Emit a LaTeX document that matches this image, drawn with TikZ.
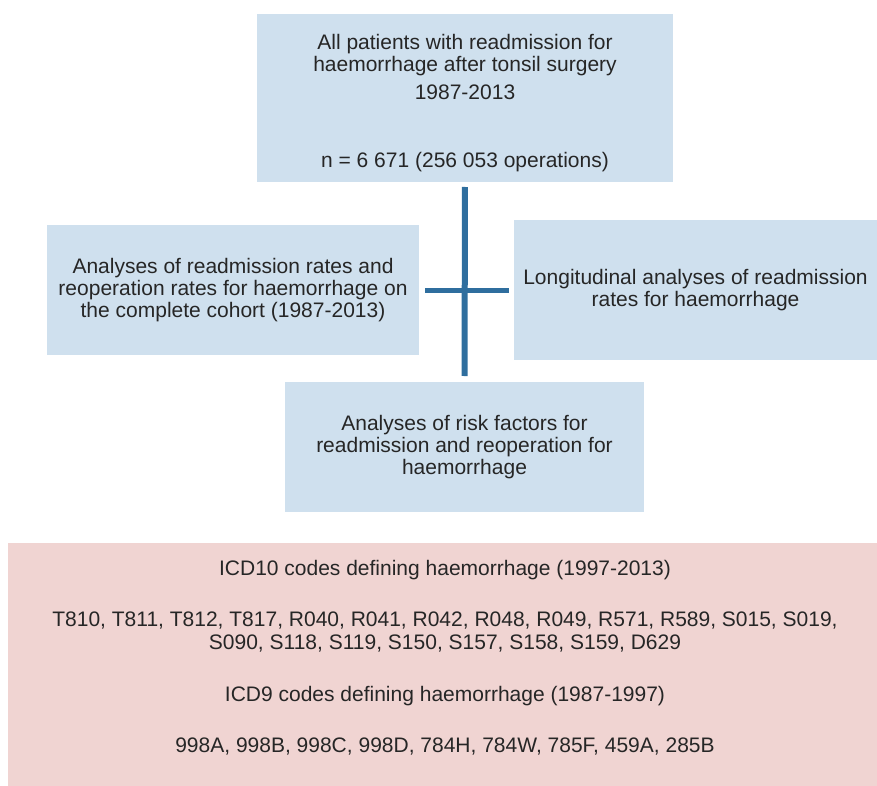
\documentclass[tikz,border=0pt]{standalone}
\usepackage{fontspec}
\setmainfont{Liberation Sans}
\definecolor{boxblue}{HTML}{CFE0EE}
\definecolor{boxpink}{HTML}{F0D4D2}
\definecolor{linkblue}{HTML}{2F6E9E}
\definecolor{txt}{HTML}{262626}
\begin{document}
\begin{tikzpicture}[x=1pt,y=-1pt,
  every node/.style={inner sep=0pt, outer sep=0pt, text=txt, font=\fontsize{21}{22}\selectfont},
  bluebox/.style={fill=boxblue, draw=none, rectangle, align=center},
  pinkbox/.style={fill=boxpink, draw=none, rectangle},
  txtline/.style={anchor=base, align=center},
  link/.style={draw=linkblue, line cap=butt}]
\useasboundingbox (0,0) rectangle (877,786);
% boxes
\node[bluebox, minimum width=416pt, minimum height=168pt] (top) at (465,98) {};
\node[bluebox, minimum width=372pt, minimum height=130pt] (left) at (233,290)
  {Analyses of readmission rates and\\reoperation rates for haemorrhage on\\the complete cohort (1987-2013)};
\node[bluebox, minimum width=363pt, minimum height=140pt] (right) at (695.5,290)
  {Longitudinal analyses of readmission\\rates for haemorrhage};
\node[bluebox, minimum width=359pt, minimum height=130pt] (bottom) at (464.5,447)
  {Analyses of risk factors for\\readmission and reoperation for\\haemorrhage};
\node[pinkbox, minimum width=869pt, minimum height=243pt] (codes) at (442.5,664.5) {};
% top box text
\node[align=center] (t1) at (465,54.6) {All patients with readmission for\\haemorrhage after tonsil surgery};
\node[txtline] (t2) at (465,99.5) {1987-2013};
\node[txtline] (t3) at (465,167.5) {n = 6 671 (256 053 operations)};
% pink box text
\node[txtline] (p1) at (445,575.5) {ICD10 codes defining haemorrhage (1997-2013)};
\node[align=center] (p2) at (445,631.6) {T810, T811, T812, T817, R040, R041, R042, R048, R049, R571, R589, S015, S019,\\[1pt]S090, S118, S119, S150, S157, S158, S159, D629};
\node[txtline] (p3) at (445,701.5) {ICD9 codes defining haemorrhage (1987-1997)};
\node[txtline] (p4) at (445,752.5) {998A, 998B, 998C, 998D, 784H, 784W, 785F, 459A, 285B};
% connectors
\draw[link, line width=6pt, shorten <=5pt, shorten >=6pt] (top.south) -- (bottom.north);
\draw[link, line width=5pt, shorten <=6pt, shorten >=5pt] (left.east) -- (right.west);
\end{tikzpicture}
\end{document}
